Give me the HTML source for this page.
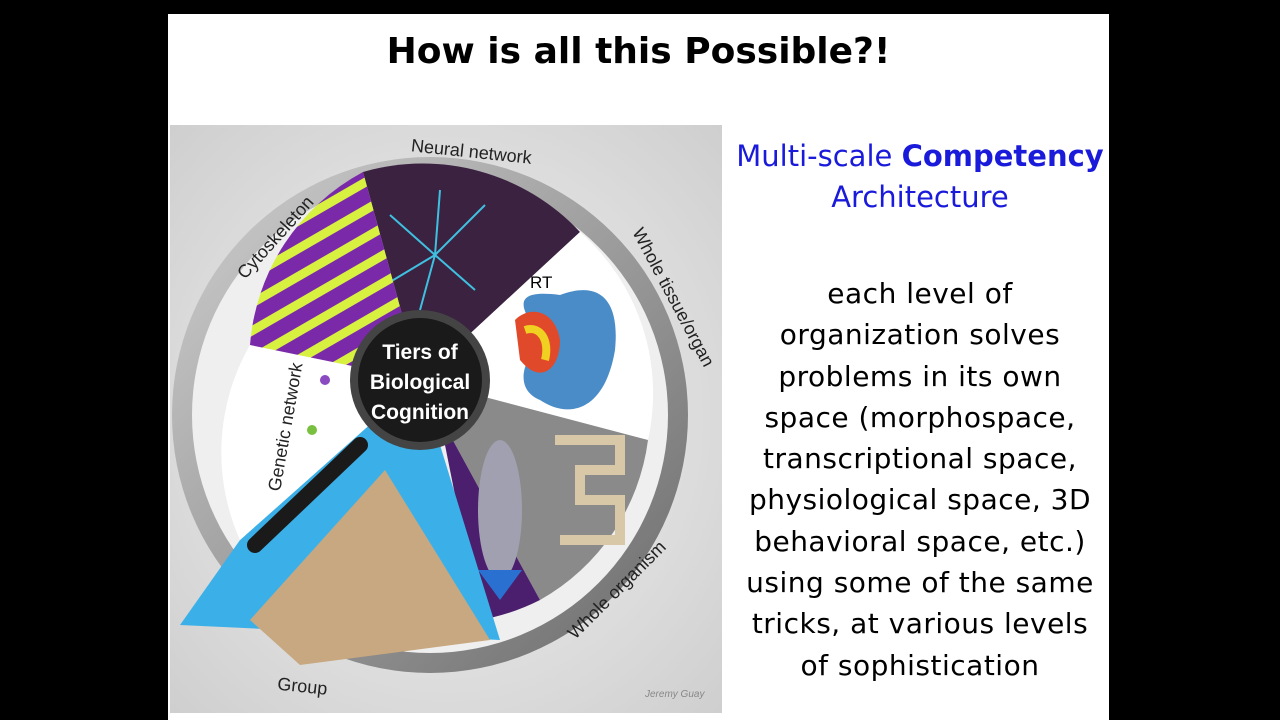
<!DOCTYPE html>
<html><head><meta charset="utf-8">
<style>
html,body{margin:0;padding:0;background:#000;width:1280px;height:720px;overflow:hidden}
.slide{position:absolute;left:168px;top:14px;width:941px;height:706px;background:#fff}
.title{position:absolute;left:168px;top:31px;width:941px;text-align:center;font:bold 36px "Comic Sans MS","DejaVu Sans",sans-serif;color:#000;letter-spacing:0px}
.head{position:absolute;left:728px;top:136px;width:384px;text-align:center;font:29px/41px "Comic Sans MS","DejaVu Sans",sans-serif;color:#1a1adb}
.body{position:absolute;left:728px;top:273px;width:384px;text-align:center;font:28px/41.3px "Comic Sans MS","DejaVu Sans",sans-serif;color:#000;letter-spacing:0.5px}
svg{position:absolute;left:0;top:0}
</style></head><body>
<div class="slide"></div>
<div class="title">How is all this Possible?!</div>
<svg width="1280" height="720">
<defs>
<radialGradient id="bg" cx="0.5" cy="0.5" r="0.7"><stop offset="0" stop-color="#f4f4f4"/><stop offset="1" stop-color="#cfcfcf"/></radialGradient>
<linearGradient id="ring" x1="0" y1="0" x2="1" y2="1"><stop offset="0" stop-color="#d0d0d0"/><stop offset="1" stop-color="#6a6a6a"/></linearGradient>
<pattern id="cyto" width="24" height="24" patternUnits="userSpaceOnUse" patternTransform="rotate(-30)"><rect width="24" height="24" fill="#7a2aa8"/><rect width="24" height="9" fill="#d8f040"/></pattern>
</defs>
<rect x="170" y="125" width="552" height="588" fill="url(#bg)"/>
<circle cx="430" cy="415" r="258" fill="url(#ring)"/>
<circle cx="430" cy="415" r="238" fill="#efefef"/>
<path d="M420 380 L363 172 A215 215 0 0 1 580 232 Z" fill="#3a2240"/>
<g stroke="#3fc0e0" stroke-width="2" fill="none">
<path d="M435 255 L390 215 M435 255 L485 205 M435 255 L420 310 M435 255 L475 290 M435 255 L385 285 M435 255 L440 190"/>
</g>
<path d="M420 380 L580 232 A215 215 0 0 1 648 440 Z" fill="#ffffff"/>
<path d="M545 340 C510 300 520 290 560 295 C600 280 620 300 615 350 C605 410 570 420 540 400 C515 390 520 360 545 340 Z" fill="#4a8cc8"/>
<path d="M515 320 C530 305 555 310 560 340 C560 370 540 385 520 360 Z" fill="#e04a2a"/>
<path d="M525 330 C540 325 550 340 545 360" fill="none" stroke="#f0d020" stroke-width="8"/>
<path d="M420 380 L648 440 A215 215 0 0 1 540 600 Z" fill="#8a8a8a"/>
<path d="M420 380 L540 600 A215 215 0 0 1 480 620 L440 420 Z" fill="#4b1f6e"/>
<path d="M555 440 L620 440 L620 470 L580 470 L580 500 L620 500 L620 540 L560 540" fill="none" stroke="#d8c8a8" stroke-width="10"/>
<ellipse cx="500" cy="510" rx="22" ry="70" fill="#a0a0b0"/>
<path d="M478 570 L522 570 L500 600 Z" fill="#2a70d0"/>
<path d="M420 380 L500 640 L180 625 L240 540 Z" fill="#3bb0e8"/>
<path d="M250 620 L385 470 L490 640 L300 665 Z" fill="#c8a880"/>
<path d="M420 380 L240 540 A215 215 0 0 1 250 345 Z" fill="#ffffff"/>
<circle cx="325" cy="380" r="5" fill="#8a4ac0"/><circle cx="312" cy="430" r="5" fill="#7ac040"/>
<path d="M420 380 L250 345 A215 215 0 0 1 363 172 Z" fill="url(#cyto)"/>
<line x1="360" y1="445" x2="255" y2="545" stroke="#1a1a1a" stroke-width="16" stroke-linecap="round"/>
<circle cx="420" cy="380" r="70" fill="#444"/>
<circle cx="420" cy="380" r="62" fill="#1a1a1a"/>
<text x="420" y="359" text-anchor="middle" font-family="Liberation Sans,sans-serif" font-size="21" font-weight="bold" fill="#fff">Tiers of</text>
<text x="420" y="389" text-anchor="middle" font-family="Liberation Sans,sans-serif" font-size="21" font-weight="bold" fill="#fff">Biological</text>
<text x="420" y="419" text-anchor="middle" font-family="Liberation Sans,sans-serif" font-size="21" font-weight="bold" fill="#fff">Cognition</text>
<text x="530" y="288" font-family="Liberation Sans,sans-serif" font-size="17" fill="#000">RT</text>
<g font-family="Liberation Sans,sans-serif" font-size="18" fill="#222">
<text x="410" y="158" transform="rotate(6 475 160)">Neural network</text>
<text x="0" y="0" transform="translate(632 232) rotate(62)">Whole tissue/organ</text>
<text x="0" y="0" transform="translate(575 640) rotate(-45)">Whole organism</text>
<text x="277" y="692" transform="rotate(6 300 690)">Group</text>
<text x="0" y="0" transform="translate(280 492) rotate(-80)">Genetic network</text>
<text x="0" y="0" transform="translate(245 280) rotate(-48)">Cytoskeleton</text>
</g>
<text x="645" y="697" font-family="Liberation Sans,sans-serif" font-size="10" font-style="italic" fill="#888">Jeremy Guay</text>
</svg>
<div class="head">Multi-scale <b>Competency</b><br>Architecture</div>
<div class="body">each level of<br>organization solves<br>problems in its own<br>space (morphospace,<br>transcriptional space,<br>physiological space, 3D<br>behavioral space, etc.)<br>using some of the same<br>tricks, at various levels<br>of sophistication</div>
</body></html>
